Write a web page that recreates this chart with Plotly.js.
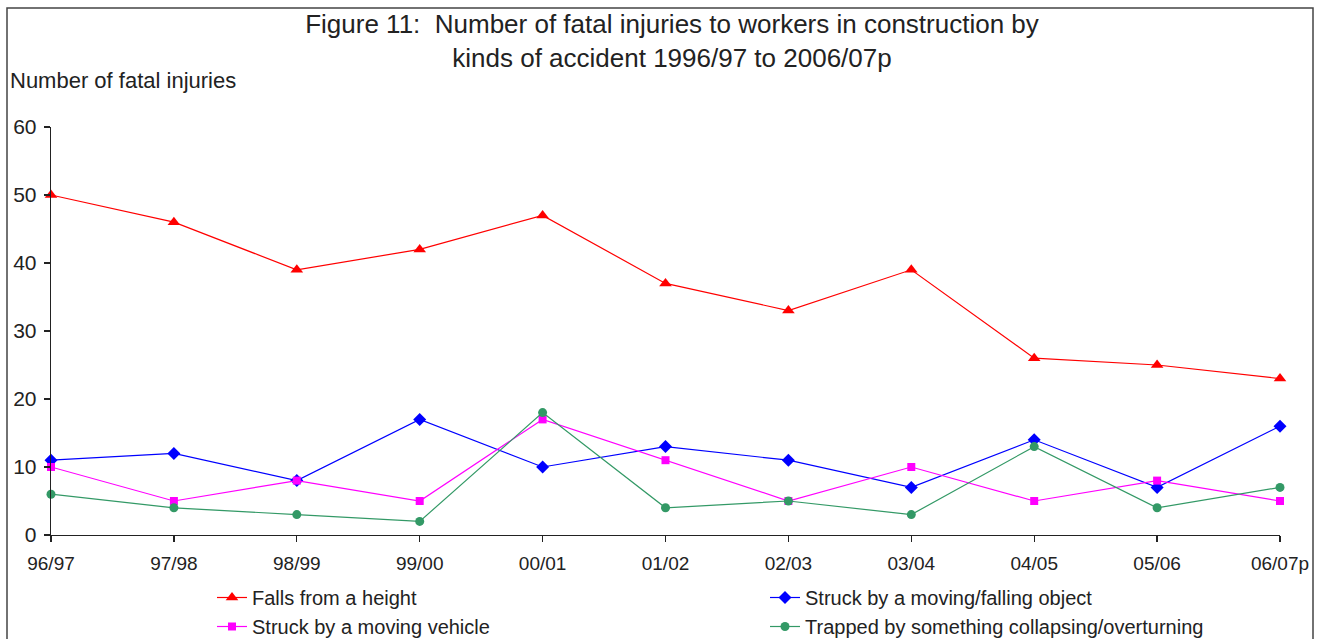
<!DOCTYPE html>
<html>
<head>
<meta charset="utf-8">
<script src="https://cdn.plot.ly/plotly-3.0.1.min.js"></script>
<style>html,body{margin:0;padding:0;background:#fff;}#chart{width:1322px;height:639px;}</style>
</head>
<body>
<div id="chart"></div>
<script>
const categories = ["96/97","97/98","98/99","99/00","00/01","01/02","02/03","03/04","04/05","05/06","06/07p"];
const fallsFromHeight = [50,46,39,42,47,37,33,39,26,25,23];
const struckByObject = [11,12,8,17,10,13,11,7,14,7,16];
const struckByVehicle = [10,5,8,5,17,11,5,10,5,8,5];
const trappedCollapsing = [6,4,3,2,18,4,5,3,13,4,7];
const seriesNames = ["Falls from a height","Struck by a moving/falling object","Struck by a moving vehicle","Trapped by something collapsing/overturning"];

const FONT = "Liberation Sans, Arial, sans-serif";
const TXT = "#222222";
const idx = categories.map((c,i)=>i);

function tr(name, y, color, symbol, size){
  return {x: idx, y: y, name: name, type: 'scatter', mode: 'lines+markers',
    line: {color: color, width: 1.2},
    marker: {color: color, symbol: symbol, size: size, line: {width: 0}},
    cliponaxis: false};
}
const data = [
  tr(seriesNames[0], fallsFromHeight, "#FF0000", "triangle-up", 11),
  tr(seriesNames[1], struckByObject, "#0000FF", "diamond", 10),
  tr(seriesNames[2], struckByVehicle, "#FF00FF", "square", 8),
  tr(seriesNames[3], trappedCollapsing, "#339966", "circle", 9)
];

const W = 1322, H = 639;
const L = 51, R = 1280, T = 127, B = 535;
const pw = R - L, ph = B - T;
const px = v => (v - L) / pw;
const py = v => (B - v) / ph;

const layout = {
  width: W, height: H,
  margin: {l: L, r: W - R, t: T, b: H - B, autoexpand: false},
  paper_bgcolor: "#ffffff", plot_bgcolor: "#ffffff",
  font: {family: FONT, color: TXT, size: 19},
  showlegend: true,
  title: {text: "Figure 11:  Number of fatal injuries to workers in construction by<br>kinds of accident 1996/97 to 2006/07p",
    font: {family: FONT, size: 26, color: TXT}, x: 672 / W, xref: 'container', xanchor: 'center',
    y: 1 - 33/H, yref: 'container', yanchor: 'top', automargin: false},
  xaxis: {range: [0, 10], tickvals: idx, ticktext: categories, showgrid: false, zeroline: false,
    showline: true, linecolor: "#222", linewidth: 1.3, ticks: 'outside', ticklen: 6, tickcolor: "#222",
    tickwidth: 1.3, tickfont: {family: FONT, size: 19, color: TXT}, ticklabelstandoff: 5, fixedrange: true},
  xaxis2: {range: [0, 10], tickvals: idx, overlaying: 'x', showticklabels: false, showgrid: false,
    zeroline: false, ticks: 'inside', ticklen: 6, tickcolor: "#222", tickwidth: 1.3, showline: false},
  yaxis: {range: [0, 60], tickvals: [0,10,20,30,40,50,60], showgrid: false, zeroline: false,
    showline: true, linecolor: "#222", linewidth: 1.3, ticks: 'outside', ticklen: 6, tickcolor: "#222",
    tickwidth: 1.3, tickfont: {family: FONT, size: 21, color: TXT}, ticklabelstandoff: 3, fixedrange: true},
  yaxis2: {range: [0, 60], tickvals: [0,10,20,30,40,50,60], overlaying: 'y', showticklabels: false,
    showgrid: false, zeroline: false, ticks: 'inside', ticklen: 6, tickcolor: "#222", tickwidth: 1.3, showline: false},
  legend: {orientation: 'h', xref: 'container', yref: 'container', x: 212 / W, xanchor: 'left',
    y: 1 - 578 / H, yanchor: 'top',
    entrywidth: 508, entrywidthmode: 'pixels', tracegroupgap: 0,
    font: {family: FONT, size: 20, color: TXT}, bgcolor: 'rgba(0,0,0,0)', itemclick: false},
  annotations: [
    {text: "Number of fatal injuries", xref: 'paper', yref: 'paper', x: px(8), y: py(81),
     xanchor: 'left', yanchor: 'middle', showarrow: false, font: {family: FONT, size: 22, color: TXT}}
  ],
  shapes: [
    {type: 'rect', xref: 'paper', yref: 'paper', x0: px(7), x1: px(1313), y0: py(660), y1: py(8),
     line: {color: "#444", width: 1.5}, fillcolor: 'rgba(0,0,0,0)', layer: 'below'}
  ]
};

Plotly.newPlot('chart', data, layout, {displayModeBar: false, staticPlot: true});
</script>
</body>
</html>
